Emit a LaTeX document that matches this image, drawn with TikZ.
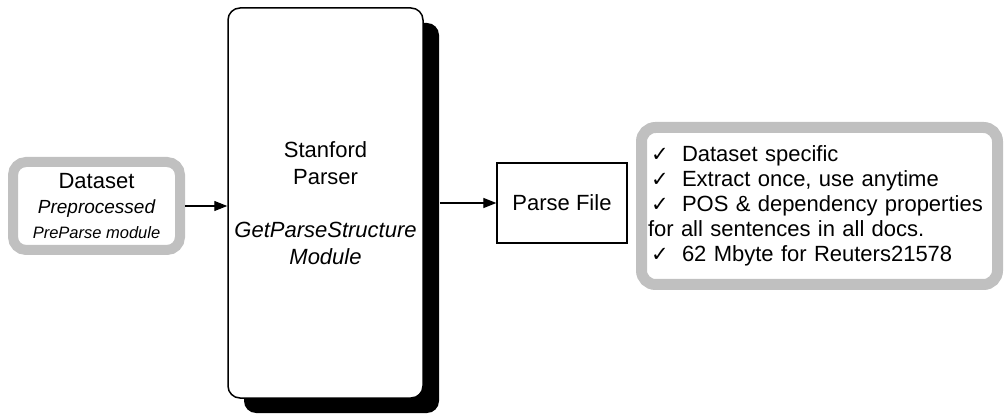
\documentclass[tikz,border=0pt]{standalone}
\usepackage{fontspec}
\setmainfont{Liberation Sans}
\newfontfamily\symfont{DejaVu Sans}
\usetikzlibrary{arrows.meta,shadows}
\definecolor{boxgray}{RGB}{192,192,192}
\newcommand{\ck}{\hspace*{3pt}\makebox[31pt][l]{\symfont\fontsize{21}{21}\selectfont ✓}}
\begin{document}
\begin{tikzpicture}[x=1pt,y=-1pt,
  graybox/.style={draw=boxgray, fill=white},
  arr/.style={line width=1.2pt, -{Triangle[length=13pt,width=10pt]}},
  txt/.style={font=\fontsize{22}{25}\selectfont}]
\useasboundingbox[fill=white] (0,0) rectangle (1005,414);

\node[graybox, line width=10pt, rounded corners=13pt, minimum width=167pt, minimum height=88pt,
      inner sep=0pt, align=center, txt] (ds) at (96.5,206)
  {Dataset\\{\fontsize{19}{25}\selectfont\itshape Preprocessed}\\{\fontsize{16.5}{25}\selectfont\itshape PreParse module}};

\node[draw=black, line width=1.5pt, rounded corners=12pt, fill=white,
      minimum width=195pt, minimum height=390pt,
      drop shadow={shadow xshift=16pt, shadow yshift=-15pt, opacity=1, fill=black},
      align=center, font=\fontsize{22}{26.75}\selectfont] (sp) at (325.5,203)
  {Stanford\\Parser\\[26.75pt]\textit{GetParseStructure}\\\textit{Module}};
\coordinate (spsh) at ([xshift=16pt]sp.east);

\node[draw=black, line width=1.3pt, minimum width=130pt, minimum height=80pt, txt] (pf) at (562,203) {Parse File};

\node[graybox, line width=11pt, rounded corners=14pt, minimum width=356pt, minimum height=157pt,
      text width=343pt, inner xsep=6.5pt, inner ysep=0pt, align=left, txt] (notes) at (819.5,206)
  {\ck Dataset specific\\
   \ck Extract once, use anytime\\
   \ck POS \& dependency properties\\
   for all sentences in all docs.\\
   \ck 62 Mbyte for Reuters21578};

\draw[arr] (ds.east) -- (sp.west |- ds.east);
\draw[arr] (spsh |- pf.west) -- (pf.west);
\end{tikzpicture}
\end{document}
